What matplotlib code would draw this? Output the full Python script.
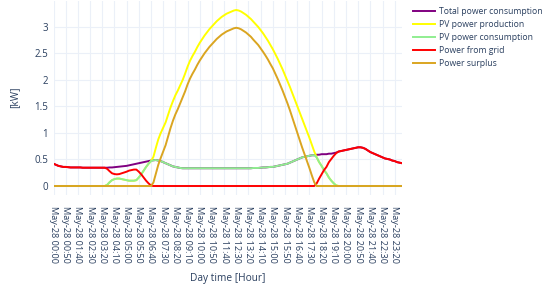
import numpy as np
import matplotlib
matplotlib.use("Agg")
import matplotlib.pyplot as plt
from matplotlib.lines import Line2D

plt.rcParams['font.family'] = ['Open Sans', 'DejaVu Sans']

# 10-minute samples, May-28 00:00 ... 23:50
times = [f"May-28 {h:02d}:{m:02d}" for h in range(24) for m in range(0, 60, 10)]

# Total power consumption [kW] (one row per hour)
total_consumption = [
    0.42, 0.40, 0.38, 0.37, 0.36, 0.36,
    0.355, 0.35, 0.35, 0.35, 0.35, 0.35,
    0.345, 0.345, 0.345, 0.345, 0.345, 0.345,
    0.345, 0.345, 0.345, 0.345, 0.345, 0.35,
    0.35, 0.355, 0.36, 0.365, 0.37, 0.375,
    0.38, 0.39, 0.40, 0.41, 0.42, 0.43,
    0.44, 0.45, 0.46, 0.47, 0.48, 0.485,
    0.49, 0.48, 0.47, 0.45, 0.43, 0.41,
    0.39, 0.37, 0.36, 0.35, 0.34, 0.335,
    0.335, 0.335, 0.335, 0.335, 0.335, 0.335,
    0.335, 0.335, 0.335, 0.335, 0.335, 0.335,
    0.335, 0.335, 0.335, 0.335, 0.335, 0.335,
    0.335, 0.335, 0.335, 0.335, 0.335, 0.335,
    0.335, 0.335, 0.335, 0.335, 0.34, 0.34,
    0.34, 0.345, 0.35, 0.35, 0.355, 0.36,
    0.36, 0.37, 0.38, 0.39, 0.40, 0.41,
    0.42, 0.44, 0.46, 0.48, 0.50, 0.52,
    0.54, 0.55, 0.56, 0.57, 0.58, 0.58,
    0.59, 0.59, 0.60, 0.60, 0.60, 0.61,
    0.61, 0.62, 0.63, 0.65, 0.66, 0.67,
    0.68, 0.69, 0.70, 0.71, 0.72, 0.73,
    0.73, 0.72, 0.70, 0.67, 0.64, 0.62,
    0.60, 0.58, 0.56, 0.54, 0.52, 0.51,
    0.50, 0.48, 0.47, 0.45, 0.44, 0.43,
]

# PV power production [kW]
pv_production = [
    0, 0, 0, 0, 0, 0,
    0, 0, 0, 0, 0, 0,
    0, 0, 0, 0, 0, 0,
    0, 0, 0, 0, 0.02, 0.07,
    0.11, 0.13, 0.14, 0.14, 0.13, 0.12,
    0.11, 0.10, 0.10, 0.10, 0.11, 0.16,
    0.22, 0.29, 0.36, 0.42, 0.47, 0.55,
    0.72, 0.88, 1.00, 1.10, 1.20, 1.34,
    1.48, 1.60, 1.71, 1.80, 1.90, 2.00,
    2.12, 2.25, 2.36, 2.45, 2.53, 2.62,
    2.70, 2.77, 2.84, 2.90, 2.96, 3.01,
    3.06, 3.11, 3.15, 3.19, 3.22, 3.25,
    3.27, 3.29, 3.31, 3.32, 3.31, 3.29,
    3.26, 3.23, 3.19, 3.15, 3.10, 3.05,
    3.00, 2.94, 2.88, 2.81, 2.74, 2.66,
    2.58, 2.49, 2.40, 2.30, 2.20, 2.09,
    1.98, 1.87, 1.75, 1.63, 1.51, 1.39,
    1.27, 1.15, 1.03, 0.91, 0.78, 0.65,
    0.54, 0.45, 0.38, 0.30, 0.24, 0.16,
    0.10, 0.05, 0.01, 0, 0, 0,
    0, 0, 0, 0, 0, 0,
    0, 0, 0, 0, 0, 0,
    0, 0, 0, 0, 0, 0,
    0, 0, 0, 0, 0, 0,
]

tot = np.array(total_consumption)
pv = np.array(pv_production)
pv_consumption = np.minimum(pv, tot)
power_from_grid = np.clip(tot - pv, 0, None)
power_surplus = np.clip(pv - tot, 0, None)

series = [
    ("Total power consumption", tot, "purple"),
    ("PV power production", pv, "yellow"),
    ("PV power consumption", pv_consumption, "lightgreen"),
    ("Power from grid", power_from_grid, "red"),
    ("Power surplus", power_surplus, "goldenrod"),
]

W, H = 550, 290
fig = plt.figure(figsize=(5.5, 2.9), dpi=100)
x0, x1 = 53.5, 402.0
ytop, ybot = 1.2, 194.8
ax = fig.add_axes([x0 / W, 1 - ybot / H, (x1 - x0) / W, (ybot - ytop) / H])

idx = np.arange(len(times))
grid_c = "#EBF0F8"
text_c = "#2a3f5f"

for name, vals, col in series:
    ax.plot(idx, vals, color=col, lw=1.4, label=name, zorder=3, solid_joinstyle='round')

ax.set_xlim(0, len(times) - 1)
ax.set_ylim(-0.166, 3.486)
tick_pos = idx[::5]
ax.set_xticks(tick_pos)
ax.set_xticklabels([times[i] for i in tick_pos], rotation=-90, fontsize=6.6,
                   color=text_c, va='top', ha='center')
ax.set_yticks([0, 0.5, 1, 1.5, 2, 2.5, 3])
ax.set_yticklabels(["0", "0.5", "1", "1.5", "2", "2.5", "3"], fontsize=7, color=text_c)
ax.tick_params(axis='y', length=0, pad=4)
ax.tick_params(axis='x', length=0, pad=8)
ax.grid(True, color=grid_c, lw=0.8, zorder=0)
ax.axhline(0, color=grid_c, lw=1.5, zorder=1)
for s in ax.spines.values():
    s.set_visible(False)

fig.text(15 / W, 1 - 97 / H, "[kW]", rotation=90, ha='center', va='center',
         fontsize=7.3, color=text_c)
fig.text(228 / W, 1 - 279 / H, "Day time [Hour]", ha='center', va='center',
         fontsize=7.3, color=text_c)

handles = [Line2D([0], [0], color=c, lw=1.4) for _, _, c in series]
leg = fig.legend(handles, [n for n, _, _ in series], loc='upper left',
                 bbox_to_anchor=(411 / W, 1 - 5 / H), frameon=False,
                 fontsize=6.2, handlelength=2.55, handletextpad=0.5,
                 labelspacing=0.47, borderaxespad=0, borderpad=0.2)
for t in leg.get_texts():
    t.set_color(text_c)

fig.savefig("out.png", dpi=100, facecolor="white")
